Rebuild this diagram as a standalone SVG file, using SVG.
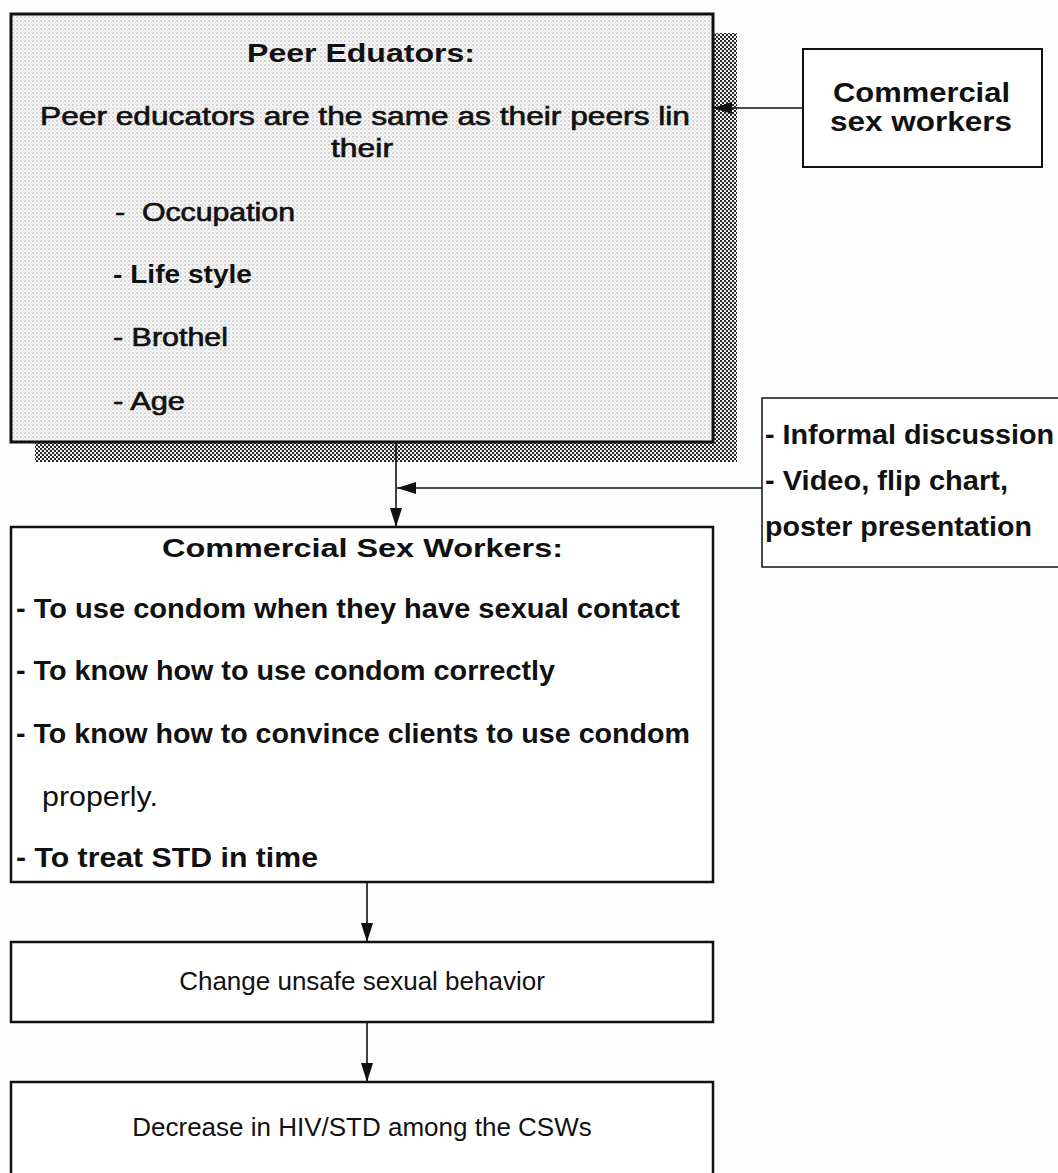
<svg xmlns="http://www.w3.org/2000/svg" width="1058" height="1173" viewBox="0 0 1058 1173">
<style>
.t{font-family:"Liberation Sans",Arial,sans-serif;fill:#111}
.b{font-weight:bold}
.semi{stroke:#111;stroke-width:0.65}
.box{fill:#fff;stroke:#111}
.conn{stroke:#111;stroke-width:1.6;fill:none}
</style>
<defs>
<pattern id="dots" width="4" height="4" patternUnits="userSpaceOnUse">
<rect width="4" height="4" fill="#f7f7f7"/>
<circle cx="1" cy="1" r="0.7" fill="#9c9c9c"/>
<circle cx="3" cy="3" r="0.6" fill="#c2c2c2"/>
</pattern>
<pattern id="shade" width="4" height="4" patternUnits="userSpaceOnUse">
<rect width="4" height="4" fill="#fff"/>
<circle cx="1" cy="1" r="1.15" fill="#1a1a1a"/>
<circle cx="3" cy="3" r="1.15" fill="#1a1a1a"/>
</pattern>
<marker id="ah" markerUnits="userSpaceOnUse" markerWidth="20" markerHeight="14" refX="19" refY="7" orient="auto">
<path d="M0,1 L19,7 L0,13 z" fill="#111"/>
</marker>
</defs>
<rect width="1058" height="1173" fill="#fdfdfd"/>

<g id="peer-educators">
<rect x="35" y="33" width="702" height="429" fill="url(#shade)"/>
<rect x="11" y="14" width="702" height="428" fill="url(#dots)" stroke="#111" stroke-width="3"/>
<text class="t b" x="247" y="62" font-size="25" textLength="228" lengthAdjust="spacingAndGlyphs">Peer Eduators:</text>
<text class="t semi" x="40" y="125" font-size="26" textLength="650" lengthAdjust="spacingAndGlyphs">Peer educators are the same as their peers lin</text>
<text class="t semi" x="331" y="157" font-size="26" textLength="62" lengthAdjust="spacingAndGlyphs">their</text>
<text class="t semi" x="115" y="221" font-size="25" textLength="180" lengthAdjust="spacingAndGlyphs" xml:space="preserve">-  Occupation</text>
<text class="t b" x="113" y="283" font-size="25" textLength="139" lengthAdjust="spacingAndGlyphs">- Life style</text>
<text class="t semi" x="113" y="346" font-size="25" textLength="115" lengthAdjust="spacingAndGlyphs">- Brothel</text>
<text class="t semi" x="113" y="410" font-size="25" textLength="72" lengthAdjust="spacingAndGlyphs">- Age</text>
</g>

<g id="csw-source">
<rect class="box" x="803" y="49" width="239" height="118" stroke-width="2"/>
<text class="t b" x="833" y="102" font-size="27" textLength="177" lengthAdjust="spacingAndGlyphs">Commercial</text>
<text class="t b" x="830" y="131" font-size="27" textLength="182" lengthAdjust="spacingAndGlyphs">sex workers</text>
</g>

<g id="methods">
<rect class="box" x="762" y="398" width="330" height="169" stroke-width="1.5"/>
<text class="t b" x="765" y="444" font-size="27" textLength="289" lengthAdjust="spacingAndGlyphs">- Informal discussion</text>
<text class="t b" x="765" y="490" font-size="27" textLength="243" lengthAdjust="spacingAndGlyphs">- Video, flip chart,</text>
<text class="t b" x="765" y="536" font-size="27" textLength="267" lengthAdjust="spacingAndGlyphs">poster presentation</text>
</g>

<g id="csw-goals">
<rect class="box" x="11" y="527" width="702" height="355" stroke-width="2.5"/>
<text class="t b" x="162" y="557" font-size="25" textLength="401" lengthAdjust="spacingAndGlyphs">Commercial Sex Workers:</text>
<text class="t b" x="16" y="618" font-size="28" textLength="664" lengthAdjust="spacingAndGlyphs">- To use condom when they have sexual contact</text>
<text class="t b" x="16" y="680" font-size="28" textLength="539" lengthAdjust="spacingAndGlyphs">- To know how to use condom correctly</text>
<text class="t b" x="16" y="743" font-size="28" textLength="674" lengthAdjust="spacingAndGlyphs">- To know how to convince clients to use condom</text>
<text class="t" x="42" y="806" font-size="27" textLength="116" lengthAdjust="spacingAndGlyphs">properly.</text>
<text class="t b" x="16" y="867" font-size="28" textLength="302" lengthAdjust="spacingAndGlyphs">- To treat STD in time</text>
</g>

<g id="change-behavior">
<rect class="box" x="11" y="942" width="702" height="80" stroke-width="2.5"/>
<text class="t" x="362" y="990" font-size="26" text-anchor="middle">Change unsafe sexual behavior</text>
</g>

<g id="decrease-hiv">
<rect class="box" x="11" y="1082" width="702" height="130" stroke-width="2.5"/>
<text class="t" x="362" y="1136" font-size="26" text-anchor="middle">Decrease in HIV/STD among the CSWs</text>
</g>

<g id="connectors">
<line class="conn" x1="803" y1="108" x2="713" y2="108" marker-end="url(#ah)"/>
<line class="conn" x1="396" y1="442" x2="396" y2="527" marker-end="url(#ah)"/>
<line class="conn" x1="762" y1="488" x2="397" y2="488" marker-end="url(#ah)"/>
<line class="conn" x1="367" y1="882" x2="367" y2="942" marker-end="url(#ah)"/>
<line class="conn" x1="367" y1="1022" x2="367" y2="1082" marker-end="url(#ah)"/>
</g>
</svg>
